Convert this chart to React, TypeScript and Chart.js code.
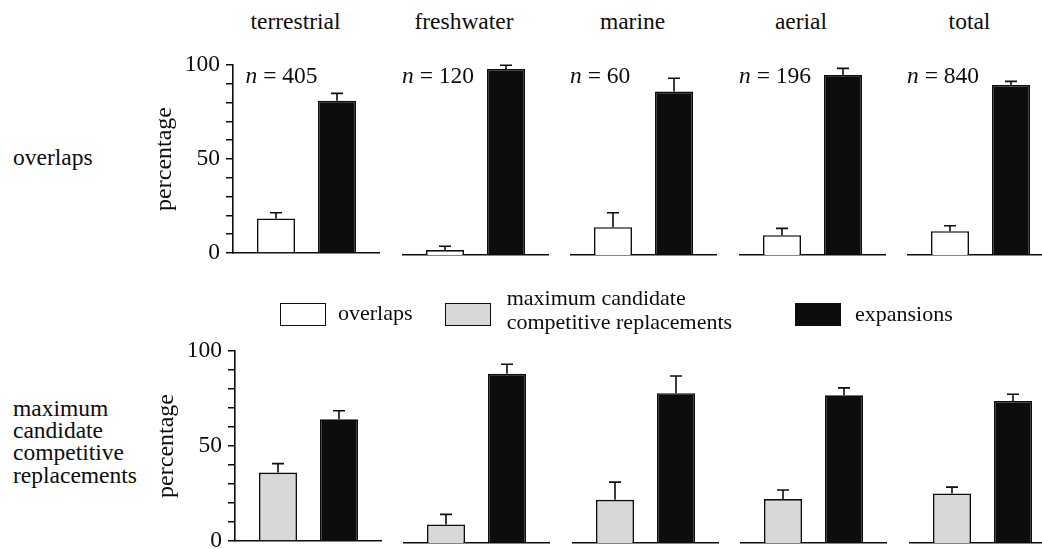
import React, { useEffect, useRef } from 'react';
import { Chart, registerables } from 'chart.js';

Chart.register(...registerables);

// ---------------- data ----------------
const categories = ['terrestrial', 'freshwater', 'marine', 'aerial', 'total'];
const sampleSizes = [405, 120, 60, 196, 840];

// top row: overlaps vs expansions (percentage, upper error)
const overlapsPct = [18.3, 2.6, 14.6, 10.4, 12.5];
const overlapsErr = [3.1, 2.0, 7.6, 3.6, 2.9];
const expansionsTopPct = [81.0, 97.9, 86.0, 94.7, 89.5];
const expansionsTopErr = [3.9, 2.0, 7.0, 3.5, 1.9];

// bottom row: maximum candidate competitive replacements vs expansions
const replacementsPct = [36.0, 9.7, 22.5, 22.9, 25.8];
const replacementsErr = [4.7, 5.2, 9.2, 4.7, 3.3];
const expansionsBottomPct = [64.0, 88.2, 78.0, 76.9, 74.0];
const expansionsBottomErr = [4.5, 4.9, 9.0, 3.9, 3.5];

const yMin = 0;
const yMax = 100;
const yStep = 10;
const yLabelEvery = 50;

const legendLabels = ['overlaps', 'maximum candidate\ncompetitive replacements', 'expansions'];
const rowLabels = ['overlaps', 'maximum\ncandidate\ncompetitive\nreplacements'];

// ---------------- style ----------------
const FONT = "'Liberation Serif', 'Times New Roman', Times, serif";
const INK = '#0d0d0d';
const GREY = '#d8d8d8';
const WHITE = '#ffffff';

const PANEL_STEP = 168.5;
const PANEL_W = 147;
const AXIS_W = 87;
const PAD_TOP = 22;
const PAD_BOTTOM = 18;

type RowSpec = {
  x0: number;
  areaTop: number;
  areaHeight: number;
  fill: string;
  firstLabel: string;
  first: number[];
  firstErr: number[];
  second: number[];
  secondErr: number[];
  showN: boolean;
};

const rows: RowSpec[] = [
  {
    x0: 233,
    areaTop: 64.5,
    areaHeight: 190.5,
    fill: WHITE,
    firstLabel: 'overlaps',
    first: overlapsPct,
    firstErr: overlapsErr,
    second: expansionsTopPct,
    secondErr: expansionsTopErr,
    showN: true,
  },
  {
    x0: 234.5,
    areaTop: 350.5,
    areaHeight: 192,
    fill: GREY,
    firstLabel: 'maximum candidate competitive replacements',
    first: replacementsPct,
    firstErr: replacementsErr,
    second: expansionsBottomPct,
    secondErr: expansionsBottomErr,
    showN: false,
  },
];

const errorBarPlugin = {
  id: 'errorBars',
  afterDatasetsDraw(chart: any, _args: any, opts: any) {
    const errs: number[][] = opts.errors || [];
    const ctx = chart.ctx;
    const yScale = chart.scales.y;
    chart.data.datasets.forEach((ds: any, di: number) => {
      const meta = chart.getDatasetMeta(di);
      meta.data.forEach((bar: any, j: number) => {
        const v = ds.data[j] as number;
        const e = (errs[di] || [])[j] || 0;
        const top = yScale.getPixelForValue(v + e);
        ctx.save();
        ctx.strokeStyle = INK;
        ctx.lineWidth = 1.6;
        ctx.beginPath();
        ctx.moveTo(bar.x, bar.y);
        ctx.lineTo(bar.x, top);
        ctx.moveTo(bar.x - 6, top);
        ctx.lineTo(bar.x + 6, top);
        ctx.stroke();
        ctx.restore();
      });
    });
  },
};

const nLabelPlugin = {
  id: 'nLabel',
  afterDraw(chart: any, _args: any, opts: any) {
    if (!opts || !opts.text) return;
    const ctx = chart.ctx;
    const yScale = chart.scales.y;
    const x = chart.chartArea.left + (opts.inset || 0);
    const yb = yScale.getPixelForValue(yMax) + 18;
    ctx.save();
    ctx.fillStyle = INK;
    ctx.textBaseline = 'alphabetic';
    ctx.textAlign = 'left';
    ctx.font = `italic 23.5px ${FONT}`;
    ctx.fillText('n', x, yb);
    const w = ctx.measureText('n').width;
    ctx.font = `23.5px ${FONT}`;
    ctx.fillText(' = ' + opts.text, x + w, yb);
    ctx.restore();
  },
};

function Panel({ index, row }: { index: number; row: RowSpec }) {
  const ref = useRef<HTMLCanvasElement>(null);
  const withAxis = index === 0;
  const canvasLeft = row.x0 + PANEL_STEP * index - (withAxis ? AXIS_W : 0);
  const canvasW = PANEL_W + (withAxis ? AXIS_W : 0);
  const canvasTop = row.areaTop - PAD_TOP;
  const canvasH = PAD_TOP + row.areaHeight + PAD_BOTTOM;

  useEffect(() => {
    if (!ref.current) return;
    const yAxis: any = {
      display: withAxis,
      min: yMin,
      max: yMax,
      ticks: {
        stepSize: yStep,
        autoSkip: false,
        padding: 6,
        color: INK,
        font: { family: FONT, size: 23.5 },
        callback: (v: any) => (Number(v) % yLabelEvery === 0 ? String(v) : ''),
      },
      grid: { drawOnChartArea: false, drawTicks: true, tickLength: 7, color: INK, lineWidth: 1.5 },
      border: { display: true, color: INK, width: 1.6 },
      title: {
        display: true,
        text: 'percentage',
        color: INK,
        font: { family: FONT, size: 24 },
        padding: { top: 4, bottom: 8 },
      },
    };
    if (withAxis) {
      yAxis.afterFit = (s: any) => {
        s.width = AXIS_W;
      };
    }
    const chart = new Chart(ref.current, {
      type: 'bar',
      data: {
        labels: [categories[index]],
        datasets: [
          {
            label: row.firstLabel,
            data: [row.first[index]],
            backgroundColor: row.fill,
            borderColor: INK,
            borderWidth: 1.6,
            borderSkipped: 'bottom',
          },
          {
            label: 'expansions',
            data: [row.second[index]],
            backgroundColor: INK,
            borderColor: INK,
            borderWidth: 1.6,
            borderSkipped: 'bottom',
          },
        ],
      },
      options: {
        responsive: false,
        animation: false,
        events: [],
        layout: { padding: { top: PAD_TOP, bottom: PAD_BOTTOM, left: 0, right: 0 } },
        datasets: { bar: { categoryPercentage: 0.83, barPercentage: 0.623 } },
        plugins: {
          legend: { display: false },
          tooltip: { enabled: false },
          errorBars: { errors: [[row.firstErr[index]], [row.secondErr[index]]] },
          nLabel: row.showN ? { text: String(sampleSizes[index]), inset: withAxis ? 12.5 : 0 } : {},
        } as any,
        scales: {
          x: {
            display: true,
            offset: true,
            grid: { display: false, drawTicks: false },
            ticks: { display: false },
            border: { display: true, color: INK, width: 1.6 },
          },
          y: yAxis,
        },
      },
      plugins: [errorBarPlugin, nLabelPlugin],
    } as any);
    return () => chart.destroy();
  }, [index, row]);

  return (
    <canvas
      ref={ref}
      width={canvasW}
      height={canvasH}
      style={{ position: 'absolute', left: canvasLeft, top: canvasTop, width: canvasW, height: canvasH }}
    />
  );
}

function LegendBox({ left, fill }: { left: number; fill: string }) {
  return (
    <div
      style={{
        position: 'absolute',
        left,
        top: 302.5,
        width: 44,
        height: 21,
        background: fill,
        border: `1.5px solid ${INK}`,
      }}
    />
  );
}

export default function App() {
  const textBase: React.CSSProperties = { position: 'absolute', whiteSpace: 'pre', color: INK };
  const titleX0 = rows[0].x0;
  return (
    <div
      style={{
        position: 'fixed',
        left: 0,
        top: 0,
        width: 1042,
        height: 549,
        overflow: 'hidden',
        background: '#ffffff',
        fontFamily: FONT,
      }}
    >
      {categories.map((c, i) => (
        <div
          key={c}
          style={{
            ...textBase,
            left: titleX0 + PANEL_STEP * i + PANEL_W / 2 - 11 - 80,
            width: 160,
            textAlign: 'center',
            top: 9.6,
            fontSize: 23.5,
            lineHeight: '23.5px',
          }}
        >
          {c}
        </div>
      ))}

      <div style={{ ...textBase, left: 13, top: 146.3, fontSize: 23.5, lineHeight: '23.5px' }}>{rowLabels[0]}</div>
      <div style={{ ...textBase, left: 13, top: 397, fontSize: 23.5, lineHeight: '22.2px' }}>{rowLabels[1]}</div>

      {rows.map((row, r) =>
        categories.map((c, i) => <Panel key={`${r}-${c}`} index={i} row={row} />)
      )}

      <LegendBox left={280} fill={WHITE} />
      <div style={{ ...textBase, left: 338, top: 301.6, fontSize: 22, lineHeight: '22px' }}>{legendLabels[0]}</div>
      <LegendBox left={444.5} fill={GREY} />
      <div style={{ ...textBase, left: 506.7, top: 285.6, fontSize: 22, lineHeight: '24px' }}>{legendLabels[1]}</div>
      <LegendBox left={795} fill={INK} />
      <div style={{ ...textBase, left: 855, top: 302.6, fontSize: 22, lineHeight: '22px' }}>{legendLabels[2]}</div>
    </div>
  );
}
